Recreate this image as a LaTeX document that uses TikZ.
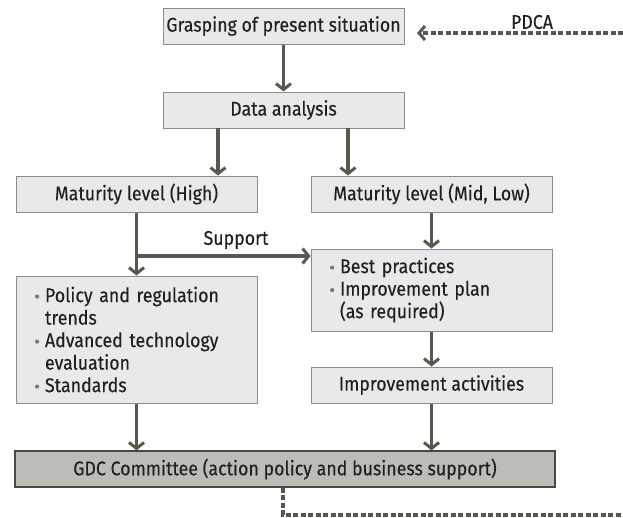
\documentclass[tikz,border=0pt]{standalone}
\usepackage{fontspec}
\setmainfont[FakeStretch=0.9,FakeBold=0.25]{Fira Sans}
\usetikzlibrary{arrows.meta}
\definecolor{boxfill}{HTML}{E8E9EA}
\definecolor{boxline}{HTML}{8C8C8A}
\definecolor{gdcfill}{HTML}{BDBDB7}
\definecolor{gdcline}{HTML}{4A4A45}
\definecolor{arrowc}{HTML}{58584F}
\definecolor{textc}{HTML}{231F20}
\definecolor{bulletc}{HTML}{7A7A72}
\newcommand{\bul}{\makebox[10pt][l]{\tikz[baseline=-5.5pt]\fill[bulletc] (0,0) circle (2.1pt);}}
\newcommand{\cont}{\makebox[10pt][l]{}}
\begin{document}
\begin{tikzpicture}[x=1pt,y=-1pt,
  font=\fontsize{19.75}{22.5}\selectfont,
  every node/.style={text=textc},
  box/.style={draw=boxline, line width=1pt, fill=boxfill, minimum width=241pt, minimum height=36pt, inner sep=0pt},
  listbox/.style={box, text width=203pt, align=left, inner xsep=19pt},
  gdcbox/.style={draw=gdcline, line width=1.2pt, fill=gdcfill, minimum width=540pt, minimum height=36pt, inner sep=0pt},
  flow/.style={draw=arrowc, line width=3.3pt, -{Straight Barb[length=6pt,width=15pt,line width=3pt]}},
  flowline/.style={draw=arrowc, line width=3.3pt},
  dashline/.style={draw=arrowc, line width=3.2pt, dash pattern=on 5pt off 2.5pt}
]
\useasboundingbox (0,0) rectangle (623,517);
\node[box] (grasp) at (283.5,26) {Grasping of present situation};
\node[box] (data) at (283.5,110) {Data analysis};
\node[box] (high) at (136.5,194) {Maturity level (High)};
\node[box] (mid) at (431.5,194) {Maturity level (Mid, Low)};
\node[listbox, minimum height=127pt] (policy) at (136.5,339.5) {\bul Policy and regulation\\ \cont trends\\ \bul Advanced technology\\ \cont evaluation\\ \bul Standards};
\node[listbox, minimum height=82pt] (best) at (431.5,290) {\bul Best practices\\ \bul Improvement plan\\ \cont (as required)};
\node[box] (impr) at (431.5,385) {Improvement activities};
\node[gdcbox] (gdc) at (285,469) {GDC Committee (action policy and business support)};

\draw[flow] (grasp.south) -- (data.north);
\coordinate (d1) at (218,128);
\coordinate (d2) at (348,128);
\draw[flow] (d1) -- (d1 |- high.north);
\draw[flow] (d2) -- (d2 |- mid.north);
\draw[flow] (high.south) -- (policy.north);
\coordinate (sj) at (136.5,256);
\draw[flow] (sj) -- (best.west |- sj);
\node (support) at (236,240) {Support};
\draw[flow] (mid.south) -- (best.north);
\draw[flow] (best.south) -- (impr.north);
\draw[flow] (policy.south) -- (policy.south |- gdc.north);
\draw[flow] (impr.south) -- (impr.south |- gdc.north);

\coordinate (pr) at (623,33);
\coordinate (pl) at (417,33);
\draw[dashline] (pr) -- ([xshift=3pt]pl);
\draw[flowline, -{Straight Barb[length=6pt,width=14pt,line width=3pt]}] ([xshift=4pt]pl) -- (pl);
\node (pdca) at (532,22) {PDCA};
\coordinate (gb) at (283,515);
\draw[dashline] (gdc.south -| gb) -- (gb) -- (623,515);
\end{tikzpicture}
\end{document}
